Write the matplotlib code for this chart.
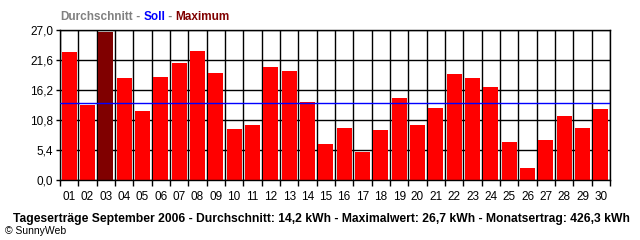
import matplotlib
matplotlib.use("Agg")
import matplotlib.pyplot as plt
import numpy as np

days = [f"{i:02d}" for i in range(1, 31)]
values = [23.0, 13.5, 26.7, 18.4, 12.4, 18.5, 21.1, 23.2, 19.3, 9.2,
          9.9, 20.3, 19.6, 14.0, 6.5, 9.4, 5.0, 9.0, 14.8, 9.9,
          13.0, 19.1, 18.4, 16.7, 6.8, 2.2, 7.2, 11.5, 9.4, 12.8]
soll = 13.9
yticks = [0.0, 5.4, 10.8, 16.2, 21.6, 27.0]
title_parts = [("Durchschnitt", "#808080"), (" - ", "#808080"), ("Soll", "#0000FF"),
               (" - ", "#808080"), ("Maximum", "#800000")]
footer = "Tageserträge September 2006 - Durchschnitt: 14,2 kWh - Maximalwert: 26,7 kWh - Monatsertrag: 426,3 kWh"
copyright_text = "© SunnyWeb"

plt.rcParams['font.family'] = ['Liberation Sans', 'DejaVu Sans']

fig = plt.figure(figsize=(6.4, 2.4), dpi=100)
ax = fig.add_axes([60/640, 60/240, 550/640, 150/240])

x = np.arange(1, len(values) + 1)
imax = int(np.argmax(values))
colors = ["#FF0000"] * len(values)
colors[imax] = "#800000"
ax.bar(x, values, width=0.82, color=colors, zorder=2)
ax.axhline(soll, color="#0000FF", lw=1.0, zorder=3)

ax.set_xlim(0.5, len(values) + 0.5)
ax.set_ylim(0, 27.0)
ax.set_axisbelow(True)

ax.set_xticks(x)
ax.set_xticklabels(days, fontsize=8.5)
ax.set_xticks(np.arange(0.5, len(values) + 1, 1.0), minor=True)
ax.tick_params(axis='x', which='major', length=0, pad=8)
ax.tick_params(axis='x', which='minor', length=4, width=1.0, color='black')
ax.grid(True, which='minor', axis='x', color='black', lw=1.0, zorder=0)

ax.set_yticks(yticks)
ax.set_yticklabels([f"{v:.1f}".replace('.', ',') for v in yticks], fontsize=8.5)
ax.tick_params(axis='y', length=3, width=1.0, pad=2)
ax.grid(True, which='major', axis='y', color='black', lw=1.0, zorder=0)

for s in ax.spines.values():
    s.set_color('black')
    s.set_linewidth(1.0)

# multicolored legend title
cur = fig.text(60/640, 1 - 20/240, title_parts[0][0], color=title_parts[0][1],
               fontsize=8.5, fontweight='bold', va='baseline', ha='left')
for txt, col in title_parts[1:]:
    cur = ax.annotate(txt, xy=(1, 0), xycoords=cur, color=col, fontsize=8.5,
                      fontweight='bold', va='bottom', ha='left', annotation_clip=False)

fig.text((12 + 630) / 2 / 640, 1 - 222/240, footer, fontsize=8.7, fontweight='bold',
         ha='center', va='baseline', color='black')
fig.text(5/640, 1 - 234/240, copyright_text, fontsize=7.5, ha='left', va='baseline',
         color='black')

fig.savefig("out.png", dpi=100)
